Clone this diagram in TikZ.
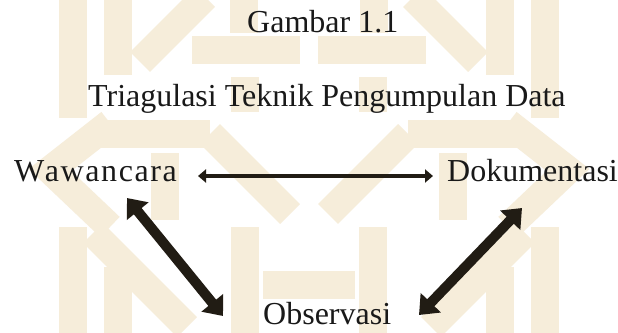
\documentclass[tikz,border=0pt]{standalone}
\usepackage{fontspec}
\setmainfont{Liberation Serif}
\usetikzlibrary{arrows.meta}
\definecolor{ink}{HTML}{211C14}
\definecolor{beige}{HTML}{F6EDDA}
\tikzset{
  lbl/.style={inner sep=0pt, font=\fontsize{32}{36}\selectfont, text=black!90},
  thinarrow/.style={draw=ink, line width=3.6pt, {Triangle[length=8pt,width=13pt]}-{Triangle[length=8pt,width=13pt]}},
  thickarrow/.style={draw=ink, line width=10pt, {Triangle[length=17pt,width=27pt]}-{Triangle[length=17pt,width=27pt]}},
  band/.style={draw=beige, line width=28pt, line cap=butt}
}
\newcommand\halfpattern{%
  \draw[band] (73,-5) -- (73,118);
  \draw[band] (118,-5) -- (118,75);
  \draw[band] (140,62) -- (205,-3);
  \draw[band] (244,-5) -- (244,33);
  \draw[band] (192,50) -- (300,50);
  \draw[band] (245,77) -- (245,112);
  \draw[band] (110,123) -- (50,170) -- (110,227);
  \draw[band] (97,134) -- (210,134);
  \draw[band] (210,134) -- (290,214);
  \draw[band] (165,153) -- (165,220);
  \draw[band] (73,227) -- (73,337);
  \draw[band] (93,233) -- (187,327);
  \draw[band] (118,267) -- (118,337);
  \draw[band] (245,227) -- (245,337);
  \draw[band] (263,285) -- (320,285);
}
\begin{document}
\begin{tikzpicture}[x=1pt,y=-1pt]
\useasboundingbox[fill=white] (0,0) rectangle (618,332);
\begin{scope}
  \clip (0,0) rectangle (618,332);
  \halfpattern
  \begin{scope}[xshift=618pt,xscale=-1]
    \halfpattern
  \end{scope}
\end{scope}
\node[lbl, anchor=base west] (gambar) at (247,32) {Gambar 1.1};
\node[lbl, anchor=base west] (triag) at (88,106) {Triagulasi Teknik Pengumpulan Data};
\node[lbl, anchor=base west] (waw) at (14,181) {W\kern0.5pt a\kern1.6pt w\kern1.6pt a\kern1.6pt n\kern1.6pt c\kern1.6pt a\kern1.6pt r\kern1.6pt a};
\node[lbl, anchor=base west] (dok) at (447,181) {Dokumentasi};
\node[lbl, anchor=base west] (obs) at (263,324) {Observasi};
\draw[thinarrow] ([xshift=184pt,yshift=5pt]waw.base west) -- ([xshift=-14pt,yshift=5pt]dok.base west);
\draw[thickarrow] ([xshift=113pt,yshift=-17pt]waw.base west) -- ([xshift=-40pt,yshift=8pt]obs.base west);
\draw[thickarrow] ([xshift=75pt,yshift=-27pt]dok.base west) -- ([xshift=156pt,yshift=9pt]obs.base west);
\end{tikzpicture}
\end{document}
